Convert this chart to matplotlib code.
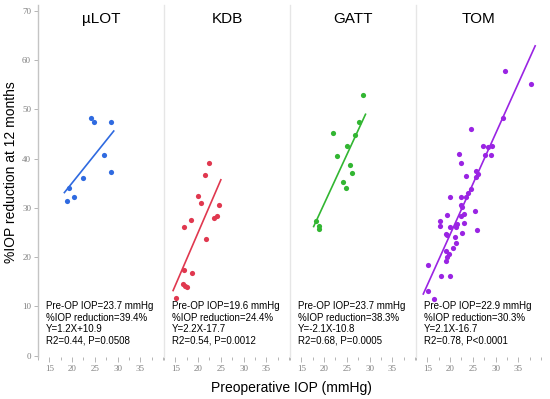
import numpy as np
from matplotlib import pyplot as plt
from matplotlib.ticker import MultipleLocator

# data
groups = ['\u00b5LOT', 'KDB', 'GATT', 'TOM']
colors = ['#2f6ae0', '#e0384f', '#32b632', '#9a24e3']

x_ulot = [24.1, 24.8, 28.6, 27.0, 28.6, 22.4, 20.5, 19.3, 18.8]
y_ulot = [48.2, 47.4, 47.4, 40.8, 37.3, 36.0, 32.3, 34.0, 31.4]

x_kdb = [22.5, 21.6, 20.0, 20.6, 24.5, 23.4, 24.2, 18.4, 17.0, 21.8, 17.0, 18.7, 16.7, 17.1, 17.6, 15.1]
y_kdb = [39.1, 36.6, 32.4, 30.9, 30.5, 28.0, 28.4, 27.5, 26.2, 23.6, 17.4, 16.7, 14.6, 14.2, 13.9, 11.6]

x_gatt = [28.5, 27.6, 22.0, 26.7, 25.0, 22.8, 25.7, 26.2, 24.1, 24.8, 18.3, 18.8, 18.8]
y_gatt = [53.0, 47.5, 45.3, 44.8, 42.6, 40.6, 38.8, 37.0, 35.2, 34.1, 27.4, 26.3, 25.7]

x_tom = [32.0, 37.8, 31.7, 24.6, 27.3, 28.3, 29.3, 22.0, 27.6, 28.9, 22.5, 25.8, 26.2, 23.6,
         25.7, 24.6, 24.0, 22.3, 19.9, 23.5, 22.4, 22.7, 25.5, 19.3, 23.0, 22.3, 17.8, 23.1,
         17.8, 21.5, 21.2, 19.9, 26.0, 19.0, 19.4, 22.6, 21.0, 21.4, 20.7, 19.0, 19.8, 19.4,
         19.2, 15.2, 18.0, 19.9, 15.2, 16.4]
y_tom = [57.7, 55.1, 48.2, 46.0, 42.5, 42.3, 42.6, 40.9, 40.7, 40.7, 39.1, 37.4, 36.9, 36.4,
         36.3, 33.9, 33.0, 32.3, 32.1, 32.2, 30.6, 30.1, 29.4, 28.5, 28.7, 28.3, 27.3, 27.0,
         26.3, 26.7, 26.2, 26.1, 25.5, 24.7, 24.4, 24.8, 24.0, 22.9, 21.8, 21.3, 20.7, 20.0,
         19.2, 18.4, 16.1, 16.1, 13.2, 11.4]

# fitted line end points
fit_x = [[18.3, 29.15], [14.5, 25.0], [17.7, 29.1], [14.1, 38.7]]
fit_y = [[33.1, 45.6], [13.2, 35.7], [26.2, 49.0], [12.5, 62.9]]

stats = ['Pre-OP IOP=23.7 mmHg\n%IOP reduction=39.4%\nY=1.2X+10.9\nR2=0.44, P=0.0508',
         'Pre-OP IOP=19.6 mmHg\n%IOP reduction=24.4%\nY=2.2X-17.7\nR2=0.54, P=0.0012',
         'Pre-OP IOP=23.7 mmHg\n%IOP reduction=38.3%\nY=-2.1X-10.8\nR2=0.68, P=0.0005',
         'Pre-OP IOP=22.9 mmHg\n%IOP reduction=30.3%\nY=2.1X-16.7\nR2=0.78, P<0.0001']

xs = [x_ulot, x_kdb, x_gatt, x_tom]
ys = [y_ulot, y_kdb, y_gatt, y_tom]

# plot
plt.rcParams['font.family'] = ['Liberation Sans', 'DejaVu Sans']
tickfont = {'family': 'Liberation Serif', 'size': 6.5}
tickcol = '#808080'

fig = plt.figure(figsize=(5.5, 3.99), dpi=100)
left, bottom, width, height = 38/550, 1-357/399, 126/550, 352/399

for i in range(4):
    ax = fig.add_axes([left + i*width, bottom, width, height])
    ax.scatter(xs[i], ys[i], s=14, color=colors[i], lw=0, zorder=3)
    ax.plot(fit_x[i], fit_y[i], color=colors[i], lw=1.2, zorder=2)

    ax.set_xlim(12.5, 40.2)
    ax.set_ylim(-0.3, 71.2)
    ax.xaxis.set_minor_locator(MultipleLocator(2.5))
    ax.set_xticks([15, 20, 25, 30, 35])
    ax.set_xticklabels(['15', '20', '25', '30', '35'], fontdict=tickfont, color=tickcol)
    ax.tick_params(axis='x', which='major', length=3.5, width=0.6, color='#aaaaaa', pad=2.5)
    ax.tick_params(axis='x', which='minor', length=2, width=0.6, color='#aaaaaa')

    for s in ['top', 'right', 'bottom']:
        ax.spines[s].set_visible(False)

    if i == 0:
        ax.set_yticks(np.arange(0, 71, 10))
        ax.set_yticklabels([str(v) for v in range(0, 71, 10)], fontdict=tickfont, color=tickcol)
        ax.tick_params(axis='y', length=3, width=0.6, color='#aaaaaa', pad=2)
        ax.spines['left'].set_color('#c4c4c4')
    else:
        ax.set_yticks([])
        ax.spines['left'].set_color('#e6e6e6')
    ax.spines['left'].set_linewidth(1.0)

    ax.text(0.5, 0.96, groups[i], transform=ax.transAxes, ha='center', va='center', fontsize=11)
    ax.text(14.3, 6.5, stats[i], ha='left', va='center', fontsize=7, linespacing=1.2)

fig.text(11/550, 1-172/399, '%IOP reduction at 12 months', rotation=90,
         ha='center', va='center', fontsize=10)
fig.text(291/550, 1-388/399, 'Preoperative IOP (mmHg)', ha='center', va='center', fontsize=10)

plt.savefig('out.png', dpi=100)
